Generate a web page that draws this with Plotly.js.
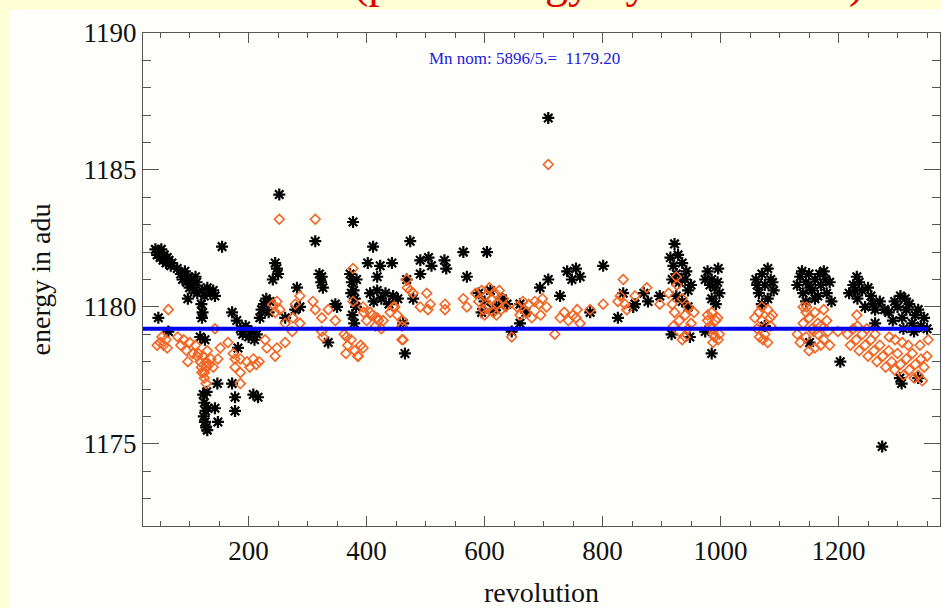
<!DOCTYPE html>
<html>
<head>
<meta charset="utf-8">
<script src="https://cdn.plot.ly/plotly-3.0.1.min.js"></script>
<style>
html,body{margin:0;padding:0;background:#FFFFD6;}
#chart{width:942px;height:608px;}
</style>
</head>
<body>
<div id="chart"></div>
<script>
// Black asterisks (revolution, energy in adu)
var blackX = [42,45,48,50,52,55,57,60,62,65,68,70,
  47,64,
  79,85,88,92,95,98,100,103,105,108,110,112,113,
  97,
  121,125,130,135,140,143,
  120,122,121,
  118,126,
  147,
  123,125,127,124,126,128,130,131,129,
  143,148,
  155,
  172,172,177,177,182,180,
  186,190,195,200,205,210,214,
  208,216,
  219,222,226,230,234,236,
  241,248,245,250,
  262,279,287,282,
  252,
  313,
  320,323,326,324,
  335,350,347,
  377,411,474,491,
  402,423,443,418,
  372,375,378,380,382,376,379,383,374,
  406,412,418,425,432,438,445,
  465,453,479,462,
  505,510,532,535,491,
  564,604,570,468,
  708,
  694,708,728,
  740,748,755,762,
  646,
  590,600,610,620,630,595,615,638,
  660,670,660,
  801,779,826,835,855,877,897,852,870,
  922,
  915,920,925,930,935,940,945,950,925,935,945,918,928,942,
  917,948,
  978,985,990,996,998,985,992,974,982,995,
  985,974,
  1080,1060,1065,1070,1075,1080,1085,1090,1070,1062,1088,1075,
  1130,1135,1140,1145,1150,1155,1160,1165,1170,1175,1180,1185,1188,1145,1160,1138,1168,1178,1152,
  1151,1203,
  1231,
  1218,1225,1232,1240,1245,1255,1262,1270,1278,1235,1250,1228,1258,
  1274,
  1262,
  1285,1292,1300,1308,1315,1320,1325,1330,1335,1340,1345,1350,1310,1328,1313,1295,1305,
  1307,1335,1304];
var blackY = [1182.1,1181.9,1182.0,1181.8,1182.1,1181.7,1181.9,1181.6,1181.8,1181.7,1181.5,1181.6,
  1179.6,1179.1,
  1181.4,1181.2,1181.0,1181.3,1180.9,1181.1,1180.7,1181.0,1180.8,1180.6,1181.1,1180.9,1180.5,
  1180.3,
  1180.6,1180.4,1180.7,1180.5,1180.6,1180.4,
  1180.1,1179.8,1179.6,
  1178.9,1178.8,
  1177.2,
  1176.8,1176.5,1176.2,1176.0,1175.8,1175.6,1175.5,1176.3,1176.9,
  1176.3,1175.8,
  1182.2,
  1179.8,1177.2,1176.7,1176.2,1178.5,1179.5,
  1179.2,1179.0,1179.3,1178.9,1179.1,1178.8,1179.0,
  1176.8,1176.7,
  1179.6,1179.9,1180.1,1180.3,1179.8,1180.2,
  1181.0,1181.4,1181.6,1181.2,
  1179.6,1179.9,1180.0,1180.7,
  1184.1,
  1182.4,
  1181.2,1180.9,1180.7,1181.1,
  1178.7,1180.0,1180.1,
  1183.1,1182.2,1182.4,1181.7,
  1181.6,1181.5,1181.6,1181.1,
  1181.2,1180.9,1180.6,1180.3,1180.0,1179.7,1179.4,1181.0,1180.5,
  1180.5,1180.2,1180.6,1180.3,1180.5,1180.1,1180.4,
  1178.3,1180.3,1180.3,1179.4,
  1181.8,1181.5,1181.7,1181.4,1181.2,
  1182.0,1182.0,1181.1,1181.0,
  1186.9,
  1180.7,1181.0,1180.4,
  1181.3,1181.0,1181.4,1181.1,
  1179.1,
  1180.5,1180.2,1180.6,1180.0,1180.3,1179.8,1179.9,1180.1,
  1180.1,1179.8,1179.4,
  1181.5,1179.8,1179.6,1180.5,1180.1,1180.2,1180.4,1180.0,1180.5,
  1182.3,
  1181.8,1181.5,1181.2,1180.9,1181.6,1181.0,1180.6,1180.8,1180.4,1180.2,1180.0,1181.0,1181.9,1181.3,
  1179.0,1178.9,
  1181.3,1181.0,1180.7,1181.4,1180.5,1180.3,1180.1,1181.0,1180.8,1180.9,
  1178.3,1179.1,
  1181.4,1181.0,1180.5,1181.2,1180.8,1180.3,1181.0,1180.6,1180.1,1180.8,1180.9,1179.3,
  1180.8,1181.1,1180.5,1180.9,1181.2,1180.6,1181.0,1180.4,1180.8,1181.3,1180.5,1180.9,1180.2,1180.2,1180.3,1181.3,1181.2,1181.0,1180.7,
  1178.7,1178.0,
  1181.1,
  1180.5,1180.8,1180.3,1180.6,1180.0,1180.4,1179.9,1180.2,1179.9,1180.9,1180.7,1180.6,1180.1,
  1174.9,
  1179.4,
  1179.8,1179.5,1180.0,1179.6,1179.9,1180.1,1179.4,1179.7,1179.9,1179.3,1179.6,1179.2,1179.2,1179.1,1180.3,1180.2,1180.4,
  1177.2,1177.4,1177.4];

// Orange diamonds
var orangeX = [64,
  45,50,53,56,60,62,
  80,85,90,95,100,105,110,113,
  97,
  115,118,120,123,125,128,130,133,136,140,125,128,
  121,129,
  143,152,148,165,174,177,177,186,186,186,
  197,202,208,213,218,
  228,231,245,248,262,
  248,245,253,262,275,279,287,287,274,241,
  309,313,324,324,335,347,326,
  252,313,
  377,377,
  406,394,418,428,440,448,460,462,469,479,491,504,502,
  362,368,374,380,385,390,365,386,394,
  708,
  395,400,410,415,420,425,
  366,
  445,452,461,
  468,474,
  460,
  508,533,533,564,570,
  585,590,595,598,602,605,608,612,615,618,622,625,628,632,636,600,620,
  646,
  655,660,665,670,675,680,
  685,692,698,705,695,
  719,
  728,735,742,750,757,762,755,
  779,801,835,830,838,841,826,855,875,897,
  912,918,922,926,930,935,940,945,950,955,930,940,925,945,920,935,
  978,985,990,995,998,985,982,988,996,978,992,987,
  1058,1062,1066,1070,1075,1080,1085,1088,1072,1065,1070,1080,1084,
  1130,1135,1140,1145,1150,1155,1160,1165,1170,1175,1180,1185,1140,1160,1175,1150,1170,1145,1165,1146,1158,1182,
  1199,1231,
  1215,1220,1225,1230,1235,1240,1245,1250,1255,1260,1265,1270,1275,1280,1285,1290,1295,1300,1305,1310,1315,1320,1325,1330,1335,1340,1345,1350,1318,1338,1352,1308,1328,1342,1296,1286,1232,1248,1262];
var orangeY = [1179.9,
  1178.6,1178.7,1178.9,1178.6,1178.8,1178.5,
  1178.9,1178.6,1178.8,1178.4,1178.7,1178.3,1178.6,1178.2,
  1178.0,
  1178.3,1178.0,1177.8,1178.2,1177.6,1178.0,1178.4,1177.9,1178.1,1177.8,1177.4,1177.2,
  1177.6,1177.8,
  1179.2,1178.5,1178.1,1178.7,1178.3,1178.1,1177.8,1177.6,1177.2,1178.1,
  1178.0,1177.8,1178.1,1177.9,1178.0,
  1178.8,1178.5,1178.2,1178.5,1178.7,
  1180.2,1179.8,1179.9,1179.4,1179.6,1180.1,1180.4,1179.4,1179.1,1180.1,
  1180.2,1179.9,1179.6,1179.1,1179.9,1179.5,1178.9,
  1183.2,1183.2,
  1181.4,1180.2,
  1179.8,1180.0,1179.6,1179.5,1179.8,1180.0,1179.3,1178.8,1180.7,1180.5,1180.0,1179.9,1180.5,
  1179.0,1178.6,1178.8,1178.4,1178.2,1178.6,1178.3,1178.2,1178.5,
  1185.2,
  1179.8,1179.5,1179.7,1179.3,1179.5,1179.2,
  1178.9,
  1180.0,1179.7,1179.5,
  1181.0,1180.6,
  1178.8,
  1180.1,1180.1,1179.9,1180.3,1180.0,
  1180.5,1180.2,1180.6,1179.9,1180.4,1180.0,1180.7,1180.3,1179.8,1180.5,1180.1,1180.6,1179.9,1180.3,1180.0,1179.7,1179.7,
  1178.9,
  1180.0,1179.7,1180.2,1179.8,1180.1,1179.6,
  1180.2,1180.1,1180.3,1180.0,1179.7,
  1179.0,
  1179.6,1179.8,1179.5,1179.7,1179.9,1179.4,1179.6,
  1179.9,1180.1,1181.0,1180.4,1180.1,1179.9,1180.2,1180.4,1180.7,1180.1,
  1180.5,1180.1,1179.8,1180.8,1179.5,1180.3,1179.7,1180.0,1179.4,1179.8,1179.1,1178.9,1181.1,1179.2,1179.3,1178.8,
  1179.5,1179.2,1178.9,1179.6,1179.0,1179.8,1179.3,1179.0,1178.8,1179.7,1179.5,1178.7,
  1179.6,1179.2,1178.9,1179.5,1179.0,1178.7,1179.3,1179.7,1178.8,1179.8,1180.0,1179.9,1179.6,
  1179.0,1178.7,1179.4,1178.9,1179.6,1179.2,1178.5,1179.0,1179.3,1178.8,1179.5,1178.6,1180.0,1179.8,1179.9,1178.4,1178.6,1179.8,1179.4,1180.0,1179.1,1179.1,
  1179.1,1179.7,
  1179.0,1178.6,1179.2,1178.8,1178.4,1179.0,1178.6,1178.2,1178.8,1178.4,1178.0,1178.6,1178.2,1177.8,1178.4,1178.0,1177.7,1178.3,1177.9,1177.5,1178.1,1177.7,1178.3,1177.9,1177.5,1178.1,1177.8,1178.2,1178.6,1178.6,1178.8,1178.7,1177.4,1177.3,1178.8,1178.9,1179.3,1179.2,1179.0];

// Nominal Mn line
var nomX = [21, 1352];
var nomY = [1179.2, 1179.2];
var nomLabel = 'Mn nom: 5896/5.=\u00A0 1179.20';
var titleText = '(peak energy by revolution)';

var serif = 'Liberation Serif, Times New Roman, serif';

var traces = [
  {x: blackX, y: blackY, type: 'scatter', mode: 'markers', name: 'black',
   marker: {symbol: 'asterisk-open', size: 10, color: '#000', line: {color: '#000', width: 2.2}}},
  {x: orangeX, y: orangeY, type: 'scatter', mode: 'markers', name: 'orange',
   marker: {symbol: 'diamond-open', size: 7.5, color: '#F26522', line: {color: '#F26522', width: 1.6}}},
  {x: nomX, y: nomY, type: 'scatter', mode: 'lines', name: 'nominal',
   line: {color: '#0000F0', width: 4}}
];

var layout = {
  width: 942, height: 608,
  margin: {l: 143, r: 2, t: 33, b: 82},
  paper_bgcolor: '#FFFFD6',
  plot_bgcolor: '#FEFEFB',
  showlegend: false,
  xaxis: {
    range: [21, 1372], tick0: 0, dtick: 200,
    ticks: 'inside', ticklen: 10, tickwidth: 1, tickcolor: '#555',
    minor: {ticks: 'inside', dtick: 50, ticklen: 5, tickcolor: '#555', tickwidth: 1, showgrid: false},
    showline: true, linecolor: '#555', linewidth: 1, mirror: 'ticks',
    showgrid: false, zeroline: false,
    tickfont: {family: serif, size: 27, color: '#111'},
    ticklabelstandoff: 1,
    title: {text: 'revolution', font: {family: serif, size: 28, color: '#111'}, standoff: 17}
  },
  yaxis: {
    range: [1172, 1190], tick0: 0, dtick: 5,
    ticks: 'inside', ticklen: 16, tickwidth: 1, tickcolor: '#555',
    minor: {ticks: 'inside', dtick: 1, ticklen: 8, tickcolor: '#555', tickwidth: 1, showgrid: false},
    showline: true, linecolor: '#555', linewidth: 1, mirror: 'ticks',
    showgrid: false, zeroline: false,
    tickfont: {family: serif, size: 27, color: '#111'},
    title: {text: 'energy in adu', font: {family: serif, size: 28, color: '#111'}, standoff: 24}
  },
  shapes: [
    {type: 'rect', xref: 'paper', yref: 'paper', layer: 'below',
     x0: -0.168, x1: 1.01, y0: -0.17, y1: 1.047,
     fillcolor: '#FEFEFB', line: {width: 0}}
  ],
  annotations: [
    {text: nomLabel, xref: 'paper', yref: 'paper', x: 0.479, y: 0.949,
     xanchor: 'center', yanchor: 'middle', showarrow: false,
     font: {family: serif, size: 17, color: '#2020E0'}},
    {text: titleText, xref: 'paper', yref: 'paper', x: 0.584, y: 1.0487,
     xanchor: 'center', yanchor: 'bottom', showarrow: false,
     font: {family: serif, size: 46, color: '#E00000'}}
  ]
};

Plotly.newPlot('chart', traces, layout, {displayModeBar: false, staticPlot: true});
</script>
</body>
</html>
